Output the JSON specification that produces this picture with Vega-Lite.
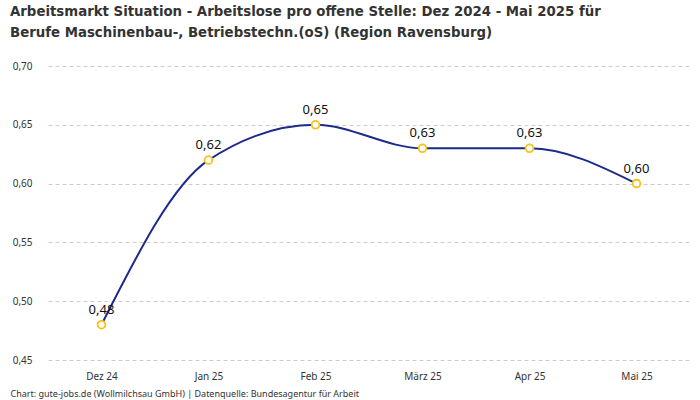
{
  "$schema": "https://vega.github.io/schema/vega-lite/v6.json",
  "width": 700,
  "height": 400,
  "autosize": {"type": "fit", "contains": "padding"},
  "padding": {"left": 10, "right": 10, "top": 4, "bottom": 2},
  "background": "white",
  "title": {
    "text": ["Arbeitsmarkt Situation - Arbeitslose pro offene Stelle: Dez 2024 - Mai 2025 für", "Berufe Maschinenbau-, Betriebstechn.(oS) (Region Ravensburg)"],
    "anchor": "start",
    "frame": "group",
    "font": "DejaVu Sans Condensed, Roboto, sans-serif",
    "fontSize": 14.8,
    "fontWeight": "bold",
    "color": "#333333",
    "lineHeight": 21,
    "offset": 21,
    "dx": -38
  },
  "data": {
    "values": [
      {"monat": "Dez 24", "wert": 0.48},
      {"monat": "Jan 25", "wert": 0.62},
      {"monat": "Feb 25", "wert": 0.65},
      {"monat": "März 25", "wert": 0.63},
      {"monat": "Apr 25", "wert": 0.63},
      {"monat": "Mai 25", "wert": 0.60}
    ]
  },
  "config": {
    "locale": {"number": {"decimal": ",", "thousands": ".", "grouping": [3], "currency": ["", " €"]}},
    "view": {"stroke": null},
    "font": "Noto Sans",
    "axis": {"labelFont": "Noto Sans", "labelFontSize": 10, "labelColor": "#333333"}
  },
  "encoding": {
    "x": {
      "field": "monat",
      "type": "ordinal",
      "sort": null,
      "scale": {"type": "point", "padding": 0.5},
      "axis": {
        "title": "Chart: gute-jobs.de (Wollmilchsau GmbH) | Datenquelle: Bundesagentur für Arbeit",
        "titleFont": "Noto Sans",
        "titleFontSize": 9,
        "titleFontWeight": "normal",
        "titleColor": "#333333",
        "titleAnchor": "start",
        "titleAlign": "left",
        "titleX": -38,
        "titlePadding": 8,
        "labelAngle": 0,
        "labelPadding": 11,
        "domain": false,
        "ticks": false,
        "grid": false
      }
    },
    "y": {
      "field": "wert",
      "type": "quantitative",
      "scale": {"domain": [0.45, 0.7], "nice": false, "zero": false},
      "axis": {
        "title": null,
        "values": [0.45, 0.5, 0.55, 0.6, 0.65, 0.7],
        "format": ".2f",
        "domain": false,
        "ticks": false,
        "labelPadding": 16,
        "grid": true,
        "gridDash": [4, 3],
        "gridColor": "#cccccc",
        "gridWidth": 1
      }
    }
  },
  "layer": [
    {
      "mark": {"type": "line", "interpolate": "monotone", "color": "#1c2a8a", "strokeWidth": 2}
    },
    {
      "mark": {"type": "point", "shape": "circle", "filled": true, "fill": "white", "stroke": "#f7c217", "strokeWidth": 1.8, "size": 60, "opacity": 1}
    },
    {
      "mark": {"type": "text", "dy": -15, "fontSize": 13, "font": "Noto Sans", "color": "#111111"},
      "encoding": {
        "text": {"field": "wert", "type": "quantitative", "format": ".2f"}
      }
    }
  ]
}
